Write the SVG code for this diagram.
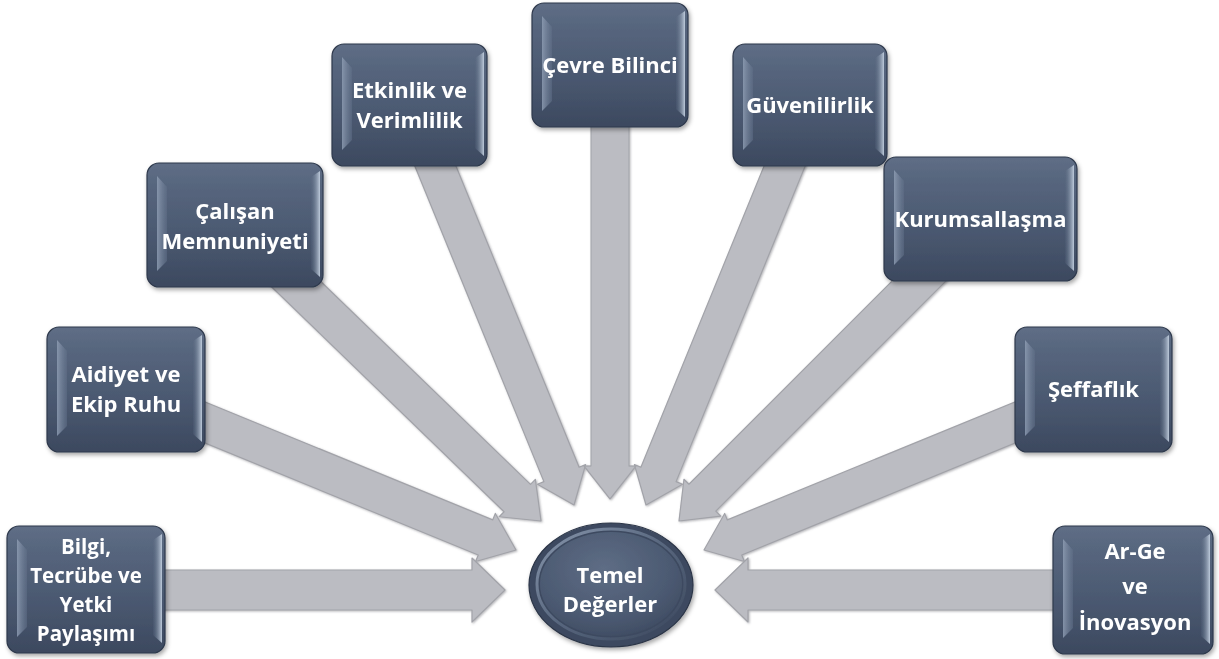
<svg xmlns="http://www.w3.org/2000/svg" xmlns:xlink="http://www.w3.org/1999/xlink" width="1219" height="659" viewBox="0 0 1219 659">
<style>
.body{fill:url(#gBody);stroke:#2E394C;stroke-width:1.2}
.bl{fill:url(#gLeft)}
.br{fill:url(#gRight)}
.node{filter:url(#nsh)}
.lbl{font-family:"Open Sans","Noto Sans","DejaVu Sans",sans-serif;font-weight:700;font-size:22px;fill:#FFFFFF;text-anchor:middle}
.sm{font-size:20.5px}
.arr{fill:#BBBCC2;stroke:#A2A3A9;stroke-width:1.2;stroke-linejoin:round}
</style>
<defs>
<linearGradient id="gBody" x1="0" y1="0" x2="0" y2="1">
<stop offset="0" stop-color="#5F6E86"/>
<stop offset="0.2" stop-color="#56657D"/>
<stop offset="0.6" stop-color="#4A5870"/>
<stop offset="1" stop-color="#3C495F"/>
</linearGradient>
<linearGradient id="gLeft" x1="0" y1="0" x2="1" y2="0">
<stop offset="0" stop-color="#8E9DB3" stop-opacity="0.85"/>
<stop offset="1" stop-color="#62718A" stop-opacity="0.5"/>
</linearGradient>
<linearGradient id="gRight" x1="0" y1="0" x2="1" y2="0">
<stop offset="0" stop-color="#5A6981" stop-opacity="0.2"/>
<stop offset="1" stop-color="#C3D0E0" stop-opacity="0.95"/>
</linearGradient>
<radialGradient id="gEll" cx="0.45" cy="0.35" r="0.7">
<stop offset="0" stop-color="#5E6D85"/>
<stop offset="0.7" stop-color="#4B5971"/>
<stop offset="1" stop-color="#3E4B61"/>
</radialGradient>
<linearGradient id="gRing" x1="0" y1="0" x2="1" y2="1">
<stop offset="0" stop-color="#9AA9BF"/>
<stop offset="0.5" stop-color="#5E6D85"/>
<stop offset="1" stop-color="#3A465B"/>
</linearGradient>
<filter id="nsh" x="-10%" y="-10%" width="125%" height="130%">
<feDropShadow dx="1.5" dy="2.5" stdDeviation="2" flood-color="#000" flood-opacity="0.35"/>
</filter>
<filter id="ash" x="-10%" y="-10%" width="120%" height="120%">
<feDropShadow dx="1" dy="1" stdDeviation="0.8" flood-color="#6B6B72" flood-opacity="0.5"/>
</filter>
<path id="arrD" d="M-440,-19 L-33,-19 L-33,-26 L0,0 L-33,26 L-33,19 L-440,19 Z"/>
<path id="arrH" d="M-440,-20 L-33,-20 L-33,-32 L0,0 L-33,32 L-33,20 L-440,20 Z"/>
</defs>
<rect x="0" y="0" width="1219" height="659" fill="#FFFFFF"/>

<g id="connectors" class="arr" filter="url(#ash)">
<use xlink:href="#arrH" href="#arrH" transform="translate(505,590)"/>
<use xlink:href="#arrH" href="#arrH" transform="translate(715,590) rotate(180)"/>
<use xlink:href="#arrD" href="#arrD" transform="translate(516,550) rotate(22.3)"/>
<use xlink:href="#arrD" href="#arrD" transform="translate(704,550) rotate(157.7)"/>
<use xlink:href="#arrD" href="#arrD" transform="translate(541,521) rotate(44.05)"/>
<use xlink:href="#arrD" href="#arrD" transform="translate(679,521) rotate(135.0)"/>
<use xlink:href="#arrD" href="#arrD" transform="translate(574,505) rotate(67.76)"/>
<use xlink:href="#arrD" href="#arrD" transform="translate(646,505) rotate(112.24)"/>
<use xlink:href="#arrD" href="#arrD" transform="translate(610,499) rotate(90)"/>
</g>

<g id="n-temel" class="node">
<ellipse cx="611" cy="585" rx="82" ry="62" fill="#3D4A60" stroke="#2B3547" stroke-width="1.2"/>
<ellipse cx="611" cy="584" rx="74" ry="55" fill="none" stroke="url(#gRing)" stroke-width="3" opacity="0.8"/>
<ellipse cx="611" cy="584" rx="71" ry="52" fill="url(#gEll)"/>
<text class="lbl" x="610" y="583">Temel</text>
<text class="lbl" x="610" y="612">Değerler</text>
</g>

<g id="n-bilgi" class="node">
<rect class="body" x="7" y="526" width="158" height="127" rx="12"/>
<path class="bl" d="M17,539 L27,550 L27,627 L17,637Z"/>
<path class="br" d="M153,540 L162,534 L162,643 L153,635Z"/>
<text class="lbl sm" x="86" y="554">Bilgi,</text>
<text class="lbl sm" x="86" y="583">Tecrübe ve</text>
<text class="lbl sm" x="86" y="612">Yetki</text>
<text class="lbl sm" x="86" y="641">Paylaşımı</text>
</g>

<g id="n-aidiyet" class="node">
<rect class="body" x="47" y="327" width="158" height="125" rx="12"/>
<path class="bl" d="M57,340 L67,351 L67,426 L57,436Z"/>
<path class="br" d="M193,341 L202,335 L202,442 L193,434Z"/>
<text class="lbl" x="126" y="382">Aidiyet ve</text>
<text class="lbl" x="126" y="412">Ekip Ruhu</text>
</g>

<g id="n-calisan" class="node">
<rect class="body" x="147" y="163" width="176" height="124" rx="12"/>
<path class="bl" d="M157,176 L167,187 L167,261 L157,271Z"/>
<path class="br" d="M311,177 L320,171 L320,277 L311,269Z"/>
<text class="lbl" x="235" y="219">Çalışan</text>
<text class="lbl" x="235" y="249">Memnuniyeti</text>
</g>

<g id="n-etkinlik" class="node">
<rect class="body" x="332" y="44" width="155" height="122" rx="12"/>
<path class="bl" d="M342,57 L352,68 L352,140 L342,150Z"/>
<path class="br" d="M475,58 L484,52 L484,156 L475,148Z"/>
<text class="lbl" x="409.5" y="98">Etkinlik ve</text>
<text class="lbl" x="409.5" y="128">Verimlilik</text>
</g>

<g id="n-cevre" class="node">
<rect class="body" x="532" y="3" width="156" height="124" rx="12"/>
<path class="bl" d="M542,16 L552,27 L552,101 L542,111Z"/>
<path class="br" d="M676,17 L685,11 L685,117 L676,109Z"/>
<text class="lbl" x="610" y="73">Çevre Bilinci</text>
</g>

<g id="n-guven" class="node">
<rect class="body" x="733" y="44" width="154" height="122" rx="12"/>
<path class="bl" d="M743,57 L753,68 L753,140 L743,150Z"/>
<path class="br" d="M875,58 L884,52 L884,156 L875,148Z"/>
<text class="lbl" x="810" y="113">Güvenilirlik</text>
</g>

<g id="n-kurum" class="node">
<rect class="body" x="884" y="157" width="193" height="124" rx="12"/>
<path class="bl" d="M894,170 L904,181 L904,255 L894,265Z"/>
<path class="br" d="M1065,171 L1074,165 L1074,271 L1065,263Z"/>
<text class="lbl" x="980.5" y="227">Kurumsallaşma</text>
</g>

<g id="n-seffaf" class="node">
<rect class="body" x="1015" y="327" width="157" height="125" rx="12"/>
<path class="bl" d="M1025,340 L1035,351 L1035,426 L1025,436Z"/>
<path class="br" d="M1160,341 L1169,335 L1169,442 L1160,434Z"/>
<text class="lbl" x="1093.5" y="397">Şeffaflık</text>
</g>

<g id="n-arge" class="node">
<rect class="body" x="1053" y="526" width="160" height="128" rx="12"/>
<path class="bl" d="M1063,539 L1073,550 L1073,628 L1063,638Z"/>
<path class="br" d="M1201,540 L1210,534 L1210,644 L1201,636Z"/>
<text class="lbl" x="1135" y="559">Ar-Ge</text>
<text class="lbl" x="1135" y="594">ve</text>
<text class="lbl" x="1135" y="630">İnovasyon</text>
</g>
</svg>
